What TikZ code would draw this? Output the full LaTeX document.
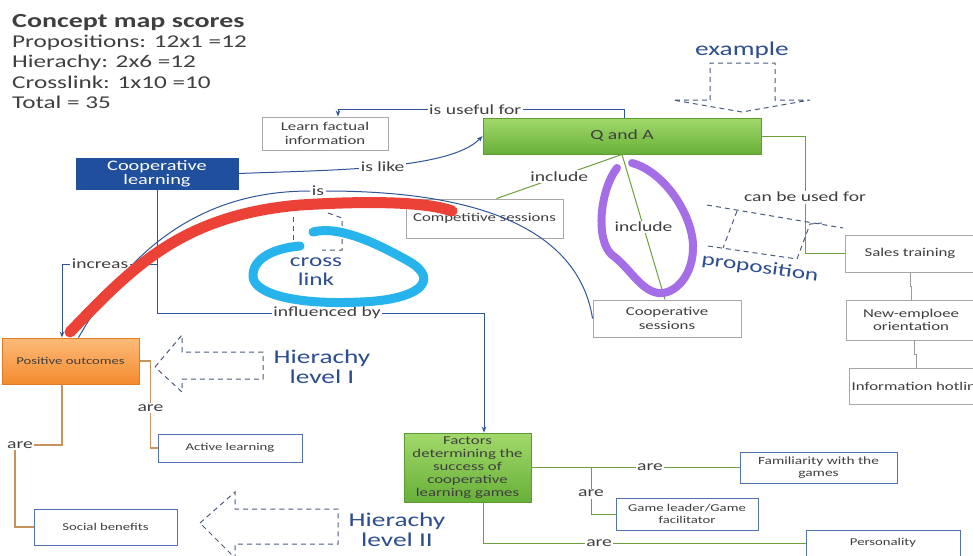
\documentclass[tikz,border=0pt]{standalone}
\usepackage{fontspec}
\setmainfont{Carlito}[FakeStretch=1.4]
\usetikzlibrary{arrows.meta}

\definecolor{linkblue}{HTML}{2F5597}
\definecolor{linkgreen}{HTML}{6E9E3E}
\definecolor{linkorange}{HTML}{C8925A}
\definecolor{linkgray}{HTML}{9A9A9A}
\definecolor{boxgray}{HTML}{A8A8A8}
\definecolor{boxblue}{HTML}{5272B2}
\definecolor{textdark}{HTML}{3F3F3F}
\definecolor{coopblue}{HTML}{1F4F9D}
\definecolor{greentop}{HTML}{A2D96A}
\definecolor{greenbot}{HTML}{68B03A}
\definecolor{greenline}{HTML}{5B9B32}
\definecolor{orangetop}{HTML}{FDBB78}
\definecolor{orangebot}{HTML}{F38B2F}
\definecolor{orangeline}{HTML}{E07A24}
\definecolor{notesblue}{HTML}{2C4D8E}
\definecolor{dashgray}{HTML}{4A5C7A}
\definecolor{markred}{HTML}{EC4136}
\definecolor{markcyan}{HTML}{27B4EC}
\definecolor{markpurple}{HTML}{A56EE6}

\begin{document}
\begin{tikzpicture}[
	x=1pt, y=-1pt,
	>={Stealth[length=6pt,width=4.5pt]},
	concept/.style={
		rectangle,
		draw=boxgray,
		fill=white,
		line width=0.9pt,
		align=center,
		inner sep=2pt,
		text=textdark,
		font=\fontsize{12}{13.5}\selectfont
	},
	bconcept/.style={
		concept,
		draw=boxblue,
		font=\fontsize{10.5}{12.5}\selectfont
	},
	qabox/.style={
		concept,
		draw=greenline,
		top color=greentop,
		bottom color=greenbot,
		font=\fontsize{14}{16}\selectfont
	},
	factbox/.style={
		concept,
		draw=greenline,
		top color=greentop,
		bottom color=greenbot,
		font=\fontsize{12}{13}\selectfont
	},
	posbox/.style={
		concept,
		draw=orangeline,
		top color=orangetop,
		bottom color=orangebot,
		font=\fontsize{10.5}{12}\selectfont
	},
	coopbox/.style={
		concept,
		draw=coopblue,
		fill=coopblue,
		text=white,
		font=\fontsize{14.5}{14.5}\selectfont
	},
	link/.style={linkblue,line width=1pt},
	glink/.style={linkgreen,line width=1pt},
	olink/.style={linkorange,line width=1.2pt},
	graylink/.style={linkgray,line width=0.8pt},
	linklabel/.style={fill=white,inner sep=1.5pt,text=textdark,font=\fontsize{14}{16}\selectfont},
	note/.style={text=notesblue,inner sep=1pt,align=center,font=\fontsize{19.5}{20}\selectfont},
	dashnote/.style={dashgray,line width=1pt,dash pattern=on 5pt off 4pt},
	scribble/.style={line cap=round,line join=round}
]
\useasboundingbox (0,0) rectangle (973,555);

% Scores
\node[anchor=north west,align=left,inner sep=0pt,text=textdark,
	font=\fontsize{18}{20.3}\selectfont] (scores) at (12,14)
	{{\fontsize{20}{20.3}\selectfont\textbf{Concept map scores}}\\Propositions: 12x1 =12\\Hierachy: 2x6 =12\\Crosslink: 1x10 =10\\Total = 35};

% Concepts
\node[coopbox, minimum width=162pt, minimum height=31pt] (coop) at (157,173.5) {Cooperative\\learning};
\node[qabox, minimum width=278pt, minimum height=36pt] (qa) at (622,136) {Q and A};
\node[concept, minimum width=126pt, minimum height=33pt] (learn) at (325,133.5) {Learn factual\\information};
\node[concept, minimum width=157pt, minimum height=39pt] (comp) at (484.5,218.5) {Competitive sessions};
\node[concept, minimum width=148pt, minimum height=37pt] (coopsess) at (667,318.5) {Cooperative\\sessions};
\node[posbox, minimum width=137pt, minimum height=46pt] (pos) at (70.5,361) {Positive outcomes};
\node[bconcept, minimum width=144pt, minimum height=28pt] (active) at (230,448) {Active learning};
\node[bconcept, minimum width=143pt, minimum height=36pt] (social) at (105.5,527) {Social benefits};
\node[factbox, minimum width=127pt, minimum height=69pt] (factors) at (467.5,467.5) {Factors\\determining the\\success of\\cooperative\\learning games};

% Uses
\node[concept, minimum width=130pt, minimum height=37pt] (sales) at (910,253.5) {Sales training};
\node[concept, minimum width=129pt, minimum height=40pt] (newemp) at (911,320) {New-emploee\\orientation};
\node[concept, minimum width=132pt, minimum height=36pt] (hotline) at (918,386) {Information hotline};

% Factors
\node[bconcept, minimum width=157pt, minimum height=31pt, font=\fontsize{11}{12.5}\selectfont] (famil) at (818.5,467.5) {Familiarity with the\\games};
\node[bconcept, minimum width=142pt, minimum height=32pt] (leader) at (687,514) {Game leader/Game\\facilitator};
\node[bconcept, minimum width=154pt, minimum height=26pt] (person) at (883,543) {Personality};

% Links from Cooperative learning
\draw[link,->] (coop.east) .. controls (330,170) and (450,170) .. node[linklabel] (lislike) {is like} (qa.west);
\coordinate (incr) at (62,264);
\draw[link,->] (coop.south) |- node[linklabel,pos=0.8] (lincr) {increas} (incr) -- (incr |- pos.north);
\coordinate (infl) at (484,313);
\draw[link,->] (coop.south) |- node[linklabel,pos=0.76] (linfl) {influenced by} (infl) -- (infl |- factors.north);
\node[linklabel] (lis) at (318,191) {is};
\draw[link] ([xshift=8pt]pos.north) .. controls (140,230) and (220,191) .. (lis.west);
\draw[link] (lis.east) .. controls (500,191) and (580,240) .. (coopsess.west);

% Links from Q and A
\draw[link,->] ([xshift=2pt]qa.north) -- ++(0,-8) -| node[linklabel,pos=0.26] (luseful) {is useful for} ([xshift=13pt]learn.north);
\draw[glink] (qa.south) -- node[linklabel] (linc1) {include} ([xshift=12pt]comp.north);
\draw[glink] (qa.south) -- node[linklabel] (linc2) {include} ([xshift=-2pt]coopsess.north);
\coordinate (canuse) at (805,136);
\draw[glink] (qa.east) -- (canuse) |- node[linklabel,pos=0.26] (lcan) {can be used for} (sales.west);
\draw[graylink] (sales.south) -- ++(0,14) -| ([xshift=0pt]newemp.north);
\draw[graylink] ([xshift=3pt]newemp.south) -- ++(0,14) -| ([xshift=-2pt]hotline.north);

% Links from Positive outcomes
\draw[olink] (pos.east) -- ++(11,0) |- node[linklabel,pos=0.27] (lare1) {are} (active.west);
\coordinate (arec) at (15,445);
\draw[olink] ([xshift=-8.5pt]pos.south) |- node[linklabel,pos=1,xshift=5pt] (lare2) {are} (arec) |- (social.west);

% Links from Factors
\draw[glink] (factors.east) -- node[linklabel,pos=0.57] (lare3) {are} (famil.west);
\coordinate (fbranch) at (591,467.5);
\draw[glink] (fbranch) |- node[linklabel,pos=0.28] (lare4) {are} (leader.west);
\draw[glink] ([xshift=15.5pt]factors.south) |- node[linklabel,pos=0.68] (lare5) {are} (person.west);

% Notes
\node[note] (nexample) at (742,50) {example};
\draw[dashnote] (710,100) -- (710,63) -- (775,63) -- (775,100) -- (810,100) -- (742,112) -- (673,100) -- cycle;
\node[note] (nhier1) at (322,367) {Hierachy\\level I};
\draw[dashnote] (155,367) -- (182,335) -- (182,352) -- (263,352) -- (263,379) -- (182,379) -- (182,392) -- cycle;
\node[note] (nhier2) at (397,530) {Hierachy\\level II};
\draw[dashnote] (200,523) -- (235,492) -- (235,509) -- (338,509) -- (338,544) -- (235,544) -- (235,558) -- cycle;
\node[note,font=\fontsize{18}{19}\selectfont] (ncross) at (316,272) {cross\\link};
\draw[dashnote] (293,240) -- (293,215);
\draw[dashnote] (328,213) -- (342,218) -- (342,250) -- (322,250);
\node[note,rotate=-8,font=\fontsize{18}{19}\selectfont] (nprop) at (760,268) {proposition};
\draw[dashnote] (707,205) -- (843,228);
\draw[dashnote] (737,211) -- (723,248);
\draw[dashnote] (708,246) -- (797,259) -- (810,224) -- (822,223);

% Marks
\draw[scribble,markred,line width=11pt] (70,332) .. controls (130,270) and (180,215) .. (300,205) .. controls (380,200) and (430,203) .. (452,211);
\draw[scribble,markcyan,line width=9pt] (313,232) .. controls (340,225) and (380,245) .. (410,262) .. controls (440,280) and (420,300) .. (360,302) .. controls (300,305) and (255,295) .. (253,277) .. controls (252,258) and (275,248) .. (300,246);
\draw[scribble,markpurple,line width=8pt] (632,163) .. controls (665,172) and (692,215) .. (693,245) .. controls (694,275) and (675,295) .. (658,293) .. controls (640,290) and (630,268) .. (612,255) .. controls (595,240) and (600,190) .. (617,168);

\end{tikzpicture}
\end{document}
